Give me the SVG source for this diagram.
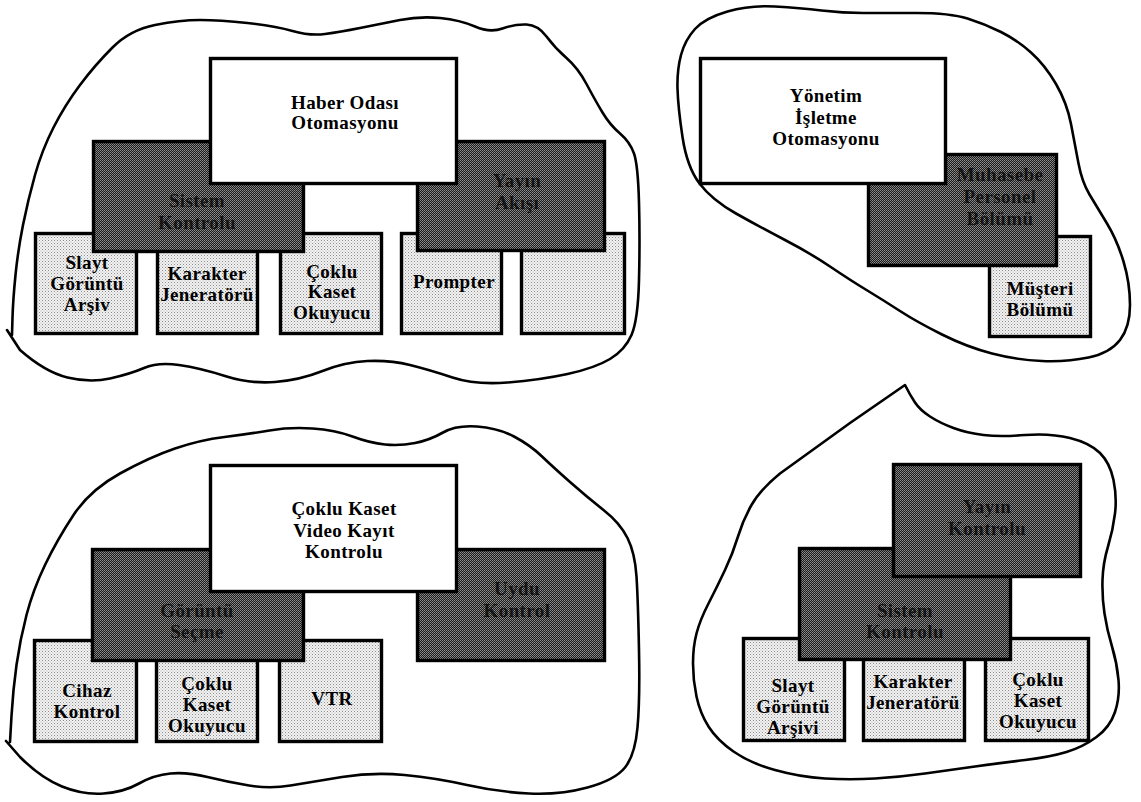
<svg xmlns="http://www.w3.org/2000/svg" width="1141" height="802" viewBox="0 0 1141 802">
  <defs>
    <!-- dark halftone screen used by the mid-level boxes -->
    <pattern id="dark" width="2" height="2" patternUnits="userSpaceOnUse">
      <rect width="2" height="2" fill="#1c1c1c"/>
      <rect x="0" y="0" width="1" height="1" fill="#8e8e8e"/>
      <rect x="1" y="1" width="1" height="1" fill="#7a7a7a"/>
    </pattern>
    <!-- light dotted screen used by the bottom-level boxes -->
    <pattern id="light" width="3" height="3" patternUnits="userSpaceOnUse">
      <rect width="3" height="3" fill="#f2f2f2"/>
      <rect x="0" y="0" width="1" height="1" fill="#8c8c8c"/>
      <rect x="1.5" y="1.5" width="1" height="1" fill="#b0b0b0"/>
    </pattern>
    <style>
      .blob { fill: none; stroke: #000; stroke-width: 2.6; stroke-linejoin: round; stroke-linecap: round; }
      .box { stroke: #000; stroke-width: 3.4; }
      .top { fill: #fff; }
      .mid { fill: url(#dark); }
      .low { fill: url(#light); }
      text { font-family: "Liberation Serif", "Times New Roman", serif; font-weight: bold; font-size: 19px; letter-spacing: 0.4px; text-anchor: middle; fill: #000; }
      text.dim { fill: #000; fill-opacity: 0.75; }
    </style>
  </defs>

  <rect width="1141" height="802" fill="#fff"/>

  <!-- cluster outlines -->
  <g id="outlines">
    <path id="outline-newsroom" class="blob" d="M 7 330 L 20 350 Q 45 372 67.5 377.5 Q 90 383 110 378.5 Q 130 374 144 368 Q 158 362 179 365 Q 200 368 225 376 Q 250 384 275 382 Q 300 380 322.5 371 Q 345 362 367.5 361 Q 390 360 410 365 Q 430 370 452.5 377.5 Q 475 385 507.5 382.5 Q 540 380 567.5 374 Q 595 368 610 359 Q 625 350 631.5 335 Q 638 320 639 280 Q 640 240 639 202.5 Q 638 165 634 153.5 Q 630 142 620 133.5 Q 610 125 602.5 112.5 Q 595 100 586.5 84 Q 578 68 566.5 58 Q 555 48 546.5 36.5 Q 538 25 526.5 24.5 Q 515 24 502.5 28.5 Q 490 33 475 26.5 Q 460 20 440 18 Q 420 16 400 20 Q 380 24 360 28 Q 340 32 325 34 Q 310 36 292.5 31 Q 275 26 247.5 23 Q 220 20 200 20 Q 180 20 155 25 Q 130 30 112.5 47.5 Q 95 65 80 85 Q 65 105 53.5 127.5 Q 42 150 35 175 Q 28 200 23 225 Q 18 250 15.5 275 Q 13 300 12.5 317.5 L 12 335"/>
    <path id="outline-management" class="blob" d="M 727.5 11.5 Q 750 5 775 6.5 Q 800 8 821.5 10.5 Q 843 13 863 13 Q 883 13 916.5 13 Q 950 13 967.5 18.5 Q 985 24 1001 32 Q 1017 40 1031 52.5 Q 1045 65 1056 84 Q 1067 103 1071 124 Q 1075 145 1078.5 163.5 Q 1082 182 1089.5 194.5 Q 1097 207 1107 223.5 Q 1117 240 1123.5 261.5 Q 1130 283 1130 305 Q 1130 327 1120 340 Q 1110 353 1088.5 357.5 Q 1067 362 1042 361 Q 1017 360 992 353.5 Q 967 347 942 334.5 Q 917 322 900 311 Q 883 300 866.5 290 Q 850 280 830 266.5 Q 810 253 785 240 Q 760 227 736 213.5 Q 712 200 699.5 183.5 Q 687 167 682.5 137 Q 678 107 677.5 88.5 Q 677 70 681 55 Q 685 40 695 29 Q 705 18 727.5 11.5 Z"/>
    <path id="outline-vcr" class="blob" d="M 6 741 L 20 757 Q 41 778 62 786.5 Q 83 795 103.5 793.5 Q 124 792 139 783.5 Q 154 775 170.5 773.5 Q 187 772 207.5 777 Q 228 782 249 785.5 Q 270 789 290.5 785.5 Q 311 782 342 777 Q 373 772 404.5 775 Q 436 778 467 785 Q 498 792 529 793.5 Q 560 795 587.5 787.5 Q 615 780 625 767.5 Q 635 755 637.5 727.5 Q 640 700 639 650 Q 638 600 636.5 576.5 Q 635 553 627.5 538 Q 620 523 603.5 510 Q 587 497 570 482 Q 553 467 541.5 456 Q 530 445 514 436.5 Q 498 428 477 426.5 Q 456 425 443 432.5 Q 430 440 415 443 Q 400 446 385 444.5 Q 370 443 352.5 436.5 Q 335 430 312.5 428.5 Q 290 427 269.5 430.5 Q 249 434 224.5 437 Q 200 440 175 448.5 Q 150 457 120 473.5 Q 90 490 73.5 515 Q 57 540 45 565 Q 33 590 26.5 615 Q 20 640 16.5 665 Q 13 690 11.5 716 L 10 742"/>
    <path id="outline-broadcast" class="blob" d="M 905 385 Q 910 395 915 402.5 Q 920 410 930 416.5 Q 940 423 953.5 428 Q 967 433 983.5 435 Q 1000 437 1025 435 Q 1050 433 1070 438 Q 1090 443 1100 453 Q 1110 463 1113.5 480 Q 1117 497 1115 513.5 Q 1113 530 1108 546.5 Q 1103 563 1102.5 580 Q 1102 597 1104.5 613.5 Q 1107 630 1112 646.5 Q 1117 663 1118.5 680 Q 1120 697 1115 712 Q 1110 727 1096.5 737 Q 1083 747 1066.5 752 Q 1050 757 1025 760 Q 1000 763 975 766.5 Q 950 770 925 773.5 Q 900 777 875 778.5 Q 850 780 825 778.5 Q 800 777 775 770 Q 750 763 733.5 751.5 Q 717 740 708.5 726.5 Q 700 713 696.5 696.5 Q 693 680 693 663.5 Q 693 647 696.5 633.5 Q 700 620 708.5 603.5 Q 717 587 725 570 Q 733 553 738 536.5 Q 743 520 751.5 505 Q 760 490 780 473.5 L 850 423 L 905 385 Z"/>
  </g>

  <!-- no connectors: the hierarchy is shown by overlapping boxes -->
  <g id="connectors"/>

  <!-- Newsroom automation cluster -->
  <g id="tl-slayt">
    <rect class="box low" x="35.5" y="233.5" width="101" height="100"/>
    <text x="87" y="269">Slayt</text>
    <text x="87" y="290">Görüntü</text>
    <text x="87" y="311">Arşiv</text>
  </g>
  <g id="tl-karakter">
    <rect class="box low" x="157.5" y="233.5" width="100" height="100"/>
    <text x="207" y="280">Karakter</text>
    <text x="207" y="301">Jeneratörü</text>
  </g>
  <g id="tl-coklu">
    <rect class="box low" x="280.5" y="233.5" width="101" height="100"/>
    <text x="332" y="278">Çoklu</text>
    <text x="332" y="298">Kaset</text>
    <text x="332" y="319">Okuyucu</text>
  </g>
  <g id="tl-prompter">
    <rect class="box low" x="401.5" y="233.5" width="100" height="100"/>
    <text x="454" y="288">Prompter</text>
  </g>
  <g id="tl-empty">
    <rect class="box low" x="521.5" y="233.5" width="103" height="100"/>
  </g>
  <g id="tl-sistem">
    <rect class="box mid" x="93.5" y="141.5" width="210" height="110"/>
    <text class="dim" x="197" y="207">Sistem</text>
    <text class="dim" x="197" y="229">Kontrolu</text>
  </g>
  <g id="tl-yayin">
    <rect class="box mid" x="417.5" y="141.5" width="187" height="109"/>
    <text class="dim" x="517" y="187">Yayın</text>
    <text class="dim" x="517" y="209">Akışı</text>
  </g>
  <g id="tl-haber">
    <rect class="box top" x="210.5" y="58.5" width="246" height="125"/>
    <text x="345" y="109">Haber Odası</text>
    <text x="345" y="129">Otomasyonu</text>
  </g>

  <!-- Management automation cluster -->
  <g id="tr-musteri">
    <rect class="box low" x="989.5" y="236.5" width="101" height="100"/>
    <text x="1040" y="295">Müşteri</text>
    <text x="1040" y="316">Bölümü</text>
  </g>
  <g id="tr-muhasebe">
    <rect class="box mid" x="868.5" y="154.5" width="188" height="111"/>
    <text class="dim" x="1000" y="181">Muhasebe</text>
    <text class="dim" x="1000" y="203">Personel</text>
    <text class="dim" x="1000" y="225">Bölümü</text>
  </g>
  <g id="tr-yonetim">
    <rect class="box top" x="700.5" y="58.5" width="245" height="125"/>
    <text x="826" y="102">Yönetim</text>
    <text x="826" y="124">İşletme</text>
    <text x="826" y="145">Otomasyonu</text>
  </g>

  <!-- Multi-cassette VCR control cluster -->
  <g id="bl-cihaz">
    <rect class="box low" x="34.5" y="640.5" width="102" height="101"/>
    <text x="87" y="697">Cihaz</text>
    <text x="87" y="718">Kontrol</text>
  </g>
  <g id="bl-coklu">
    <rect class="box low" x="156.5" y="640.5" width="101" height="101"/>
    <text x="207" y="690">Çoklu</text>
    <text x="207" y="711">Kaset</text>
    <text x="207" y="732">Okuyucu</text>
  </g>
  <g id="bl-vtr">
    <rect class="box low" x="279.5" y="640.5" width="102" height="101"/>
    <text x="332" y="705">VTR</text>
  </g>
  <g id="bl-goruntu">
    <rect class="box mid" x="92.5" y="549.5" width="211" height="111"/>
    <text class="dim" x="197" y="617">Görüntü</text>
    <text class="dim" x="197" y="638">Seçme</text>
  </g>
  <g id="bl-uydu">
    <rect class="box mid" x="417.5" y="549.5" width="187" height="111"/>
    <text class="dim" x="517" y="595">Uydu</text>
    <text class="dim" x="517" y="617">Kontrol</text>
  </g>
  <g id="bl-vcr">
    <rect class="box top" x="210.5" y="465.5" width="246" height="126"/>
    <text x="344" y="515">Çoklu Kaset</text>
    <text x="344" y="537">Video Kayıt</text>
    <text x="344" y="558">Kontrolu</text>
  </g>

  <!-- Broadcast control cluster -->
  <g id="br-slayt">
    <rect class="box low" x="743.5" y="638.5" width="101" height="102"/>
    <text x="793" y="692">Slayt</text>
    <text x="793" y="713">Görüntü</text>
    <text x="793" y="734">Arşivi</text>
  </g>
  <g id="br-karakter">
    <rect class="box low" x="863.5" y="638.5" width="101" height="102"/>
    <text x="913" y="688">Karakter</text>
    <text x="913" y="709">Jeneratörü</text>
  </g>
  <g id="br-coklu">
    <rect class="box low" x="985.5" y="638.5" width="103" height="102"/>
    <text x="1038" y="686">Çoklu</text>
    <text x="1038" y="707">Kaset</text>
    <text x="1038" y="728">Okuyucu</text>
  </g>
  <g id="br-sistem">
    <rect class="box mid" x="799.5" y="548.5" width="211" height="111"/>
    <text class="dim" x="905" y="617">Sistem</text>
    <text class="dim" x="905" y="638">Kontrolu</text>
  </g>
  <g id="br-yayin">
    <rect class="box mid" x="893.5" y="464.5" width="187" height="112"/>
    <text class="dim" x="987" y="513">Yayın</text>
    <text class="dim" x="987" y="535">Kontrolu</text>
  </g>
</svg>
